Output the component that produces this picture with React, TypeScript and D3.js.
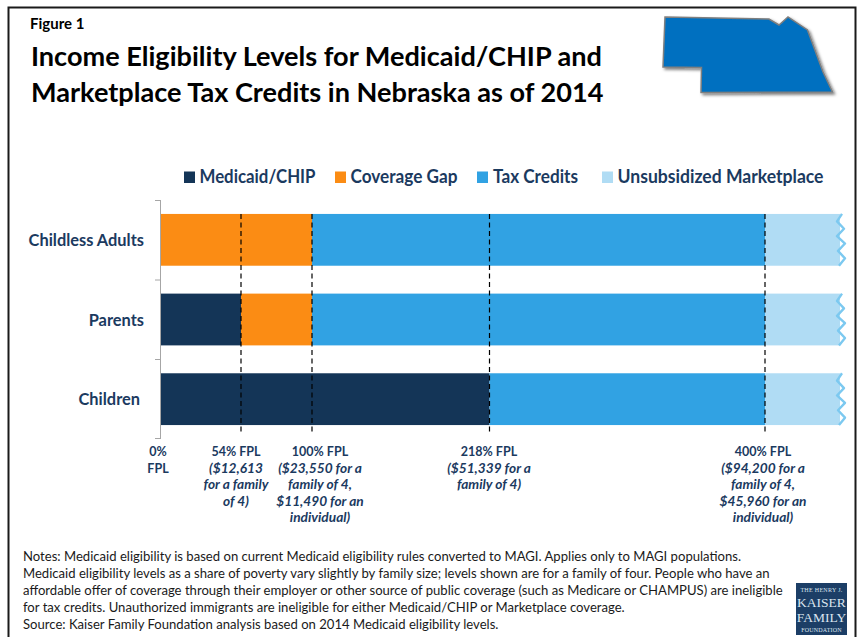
import React from "react";
import * as d3 from "d3";

const FONT = "Lato, 'Open Sans', sans-serif";
const NAVY = "#1b3a5f";

const categories = ["Childless Adults", "Parents", "Children"];
const seriesNames = ["Medicaid/CHIP", "Coverage Gap", "Tax Credits", "Unsubsidized Marketplace"];
const seriesColors = ["#143557", "#fb8c14", "#31a2e3", "#b0dcf4"];
const medicaid = [0, 54, 218];
const coverageGap = [100, 46, 0];
const taxCredits = [300, 300, 182];
const unsubsidized = [50, 50, 50];

const fplTicks = [0, 54, 100, 218, 400];
const fplLabels = [
  ["0%", "FPL"],
  ["54% FPL", "($12,613", "for a family", "of 4)"],
  ["100% FPL", "($23,550 for a", "family of 4,", "$11,490 for an", "individual)"],
  ["218% FPL", "($51,339 for a", "family of 4)"],
  ["400% FPL", "($94,200 for a", "family of 4,", "$45,960 for an", "individual)"],
];

const titleLines = [
  "Income Eligibility Levels for Medicaid/CHIP and",
  "Marketplace Tax Credits in Nebraska as of 2014",
];
const noteLines = [
  "Notes: Medicaid eligibility is based on current Medicaid eligibility rules converted to MAGI. Applies only to MAGI populations.",
  "Medicaid eligibility levels as a share of poverty vary slightly by family size; levels shown are for a family of four. People who have an",
  "affordable offer of coverage through their employer or other source of public coverage (such as Medicare or CHAMPUS) are ineligible",
  "for tax credits. Unauthorized immigrants are ineligible for either Medicaid/CHIP or Marketplace coverage.",
  "Source: Kaiser Family Foundation analysis based on 2014 Medicaid eligibility levels.",
];
const stateOutline: [number, number][] = [
  [665, 17], [769, 19], [779, 25], [788, 17], [807.5, 30], [823, 72], [832.5, 92],
  [701, 92.5], [701.5, 67.5], [663, 67],
];
const wave = [2, -3, 4, -3, 5, -2, 5, -1];

export default function App() {
  const x = d3.scaleLinear().domain([0, 54, 100, 218, 400, 450]).range([161, 241, 312, 489.5, 765, 840]);
  const y = d3.scaleBand().domain(categories).range([200, 439]).paddingInner(0.35).paddingOuter(0.175);
  const rows = d3.stack<number>().keys(["0", "1", "2", "3"]).value((i, k) =>
    [medicaid, coverageGap, taxCredits, unsubsidized][+k][i]
  )(categories.map((_, i) => i));
  const line = d3.line<[number, number]>().curve(d3.curveLinear);
  const waveEnd = x(450);
  const legendX = [184, 335, 477, 602];
  const legendW = [116, 107, 85, 206];
  const labelCx = [158, 236, 320, 489, 763];

  return (
    <svg width={859} height={637} style={{ position: "absolute", left: 0, top: 0, fontFamily: FONT }}>
      <defs>
        <filter id="sh" x="-10%" y="-10%" width="125%" height="125%">
          <feDropShadow dx="2" dy="2" stdDeviation="1.6" floodColor="#000" floodOpacity="0.5" />
        </filter>
      </defs>
      <rect width={859} height={637} fill="#fff" />
      <path d="M8.5,640V7.5H855.5V640" fill="none" stroke="#1a1a1a" strokeWidth={2} />

      <text x={30} y={29} fontSize={15} fontWeight={700} fill="#000">Figure 1</text>
      {titleLines.map((t, i) => (
        <text key={t} x={31} y={66 + i * 36} fontSize={27.1} fontWeight={700} fill="#000">{t}</text>
      ))}
      <path d={d3.line()(stateOutline) + "Z"} fill="#0070c0" stroke="#7f7f7f" strokeWidth={1.5} filter="url(#sh)" />

      {seriesNames.map((n, i) => (
        <g key={n}>
          <rect x={legendX[i]} y={171.5} width={11} height={11.5} fill={seriesColors[i]} />
          <text x={legendX[i] + (i === 2 ? 16 : 15.5)} y={183} fontSize={18} fontWeight={700} fill={NAVY}
            textLength={legendW[i]} lengthAdjust="spacingAndGlyphs">{n}</text>
        </g>
      ))}

      <path d="M155,200.5H160.5M155,280H160.5M155,359.5H160.5M155,438.5H160.5M160.5,200V439" fill="none" stroke="#a6a6a6" strokeWidth={1} />

      {rows.map((s, si) =>
        s.map((d, i) => {
          const w = x(d[1]) - x(d[0]);
          if (w <= 0) return null;
          return (
            <rect key={`${si}-${i}`} x={x(d[0])} y={y(categories[i])} width={w} height={y.bandwidth()} fill={seriesColors[si]} />
          );
        })
      )}
      {categories.map((c) => {
        const y0 = y(c)!;
        const step = y.bandwidth() / (wave.length - 1);
        return (
          <path
            key={c}
            d={line(wave.map((o, k) => [waveEnd + o, y0 + k * step]))!}
            fill="none"
            stroke="#7cc9f0"
            strokeWidth={2.4}
            strokeLinejoin="round"
          />
        );
      })}
      {categories.map((c) => (
        <text key={c} x={c === "Children" ? 140 : 144} y={y(c)! + y.bandwidth() / 2 + 6} textAnchor="end" fontSize={16.4} fontWeight={700} fill={NAVY}>
          {c}
        </text>
      ))}

      {fplTicks.slice(1).map((t) => (
        <line key={t} x1={x(t)} x2={x(t)} y1={214} y2={433} stroke="#000" strokeWidth={1.2} strokeDasharray="5 3.5" />
      ))}

      {fplLabels.map((lines, i) => (
        <text key={i} textAnchor="middle" fontWeight={700} fill={NAVY}>
          {lines.map((l, k) => {
            const upright = k === 0 || i === 0;
            return (
              <tspan key={k} x={labelCx[i]} y={456 + k * 16.6} fontSize={upright ? 12.5 : 13.7} fontStyle={upright ? "normal" : "italic"}>
                {l}
              </tspan>
            );
          })}
        </text>
      ))}

      {noteLines.map((n, i) => (
        <text key={i} x={23} y={561 + i * 17.1} fontSize={13.1} fill="#1a1a1a">{n}</text>
      ))}

      <rect x={796} y={583} width={51} height={52} fill="#1c3e66" />
      <g fill="#dbe4ee" fontFamily="'Liberation Serif', serif" textAnchor="middle">
        <text x={821.5} y={592} fontSize={6} letterSpacing={0.3}>THE HENRY J.</text>
        <text x={821.5} y={607} fontSize={13.5}>KAISER</text>
        <text x={821.5} y={622} fontSize={13.5}>FAMILY</text>
        <text x={821.5} y={632} fontSize={6} letterSpacing={0.2}>FOUNDATION</text>
      </g>
    </svg>
  );
}
